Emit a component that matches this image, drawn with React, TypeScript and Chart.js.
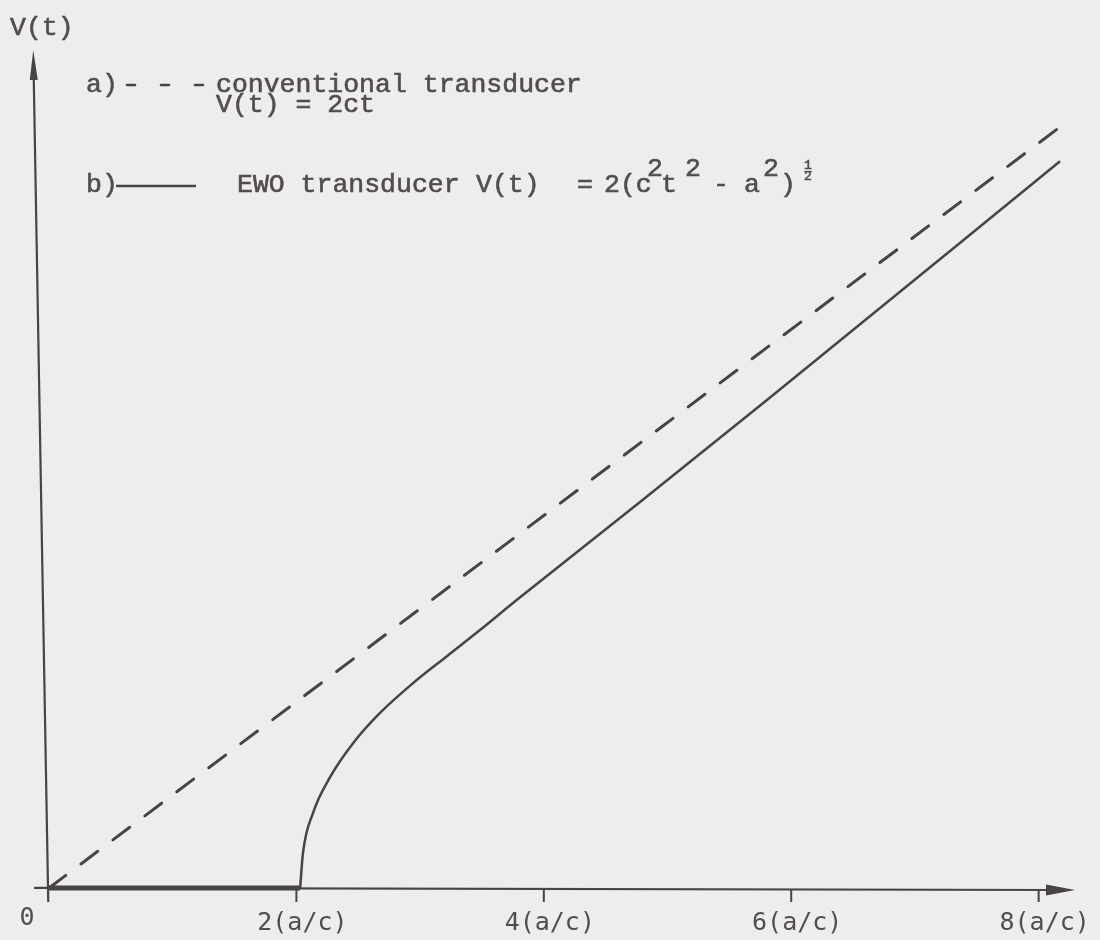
import React, { useEffect, useRef } from "react";
import { Chart, registerables } from "chart.js";

Chart.register(...registerables);

// ---- data (t in units of a/c, V in units of a) ----
const tickValues = [2, 4, 6, 8];
const tickLabels = ["2(a/c)", "4(a/c)", "6(a/c)", "8(a/c)"];
const originLabel = "0";
const yAxisTitle = "V(t)";

const conventionalT = [0, 8.16];
const conventionalV = [0, 16.32];

const ewoBaseT = [0, 2.03];
const ewoBaseV = [0, 0];

const ewoT = [2.03, 2.053, 2.134, 2.272, 2.458, 2.676, 2.943, 3.217, 3.484, 3.783, 4.778, 5.804, 8.173];
const ewoV = [0, 0.75, 1.61, 2.38, 3.11, 3.76, 4.4, 4.98, 5.54, 6.19, 8.29, 10.48, 15.61];

const legendALabel = "a)";
const legendAText = "conventional transducer";
const legendAFormula = "V(t) = 2ct";
const legendBLabel = "b)";
const legendBText = "EWO transducer";

const X_MIN = 0;
const X_MAX = 8.294;
const Y_MIN = 0;
const Y_MAX = 18;

const toPoints = (xs: number[], ys: number[]) => xs.map((x, i) => ({ x, y: ys[i] }));

export default function App() {
  const ref = useRef<HTMLCanvasElement>(null);

  useEffect(() => {
    document.body.style.margin = "0";
    const canvas = ref.current;
    if (!canvas) return;

    const ink = "#4a4343";
    const paper = "#ededeb";
    const textInk = "#534c4c";
    const serifMono = "26.5px 'Liberation Mono', 'Courier New', monospace";
    const sansMono = "25px 'DejaVu Sans Mono', monospace";
    const smallMono = "13px 'Liberation Mono', 'Courier New', monospace";

    const typed = (c: CanvasRenderingContext2D, s: string, x: number, y: number, font = serifMono) => {
      c.font = font;
      c.fillStyle = textInk;
      c.strokeStyle = textInk;
      c.lineWidth = 0.6;
      c.textAlign = "left";
      c.textBaseline = "alphabetic";
      c.fillText(s, x, y);
      c.strokeText(s, x, y);
    };

    const decor = {
      id: "decor",
      beforeDraw(chart: any) {
        const c = chart.ctx as CanvasRenderingContext2D;
        c.save();
        c.fillStyle = paper;
        c.fillRect(0, 0, chart.width, chart.height);
        c.restore();
      },
      beforeDatasetsDraw(chart: any) {
        const c = chart.ctx as CanvasRenderingContext2D;
        const xs = chart.scales.x;
        const ys = chart.scales.y;
        const area = chart.chartArea;
        const ox = xs.getPixelForValue(0);
        const oy = ys.getPixelForValue(0);
        const lean = 0.0176;
        const yAxisX = (y: number) => ox - 1 - (oy - y) * lean;
        const xAxisY = (x: number) => oy + (x - ox) * 0.002;

        c.save();
        c.strokeStyle = ink;
        c.fillStyle = ink;
        c.lineCap = "butt";

        // y axis
        c.lineWidth = 2.2;
        c.beginPath();
        c.moveTo(yAxisX(oy + 14), oy + 14);
        c.lineTo(yAxisX(area.top + 20), area.top + 20);
        c.stroke();
        // y arrow head
        const tipY = area.top;
        const baseY = area.top + 30;
        c.beginPath();
        c.moveTo(yAxisX(tipY), tipY);
        c.lineTo(yAxisX(baseY) + 4, baseY);
        c.lineTo(yAxisX(baseY) - 4, baseY);
        c.closePath();
        c.fill();

        // x axis
        c.lineWidth = 2.2;
        c.beginPath();
        c.moveTo(ox - 15, xAxisY(ox - 15));
        c.lineTo(area.right - 20, xAxisY(area.right - 20));
        c.stroke();
        // x arrow head
        const tipX = area.right;
        const baseX = area.right - 29;
        c.beginPath();
        c.moveTo(tipX, xAxisY(tipX));
        c.lineTo(baseX, xAxisY(baseX) - 5.5);
        c.lineTo(baseX, xAxisY(baseX) + 5.5);
        c.closePath();
        c.fill();

        // ticks
        c.lineWidth = 2;
        tickValues.forEach((v) => {
          const px = xs.getPixelForValue(v);
          c.beginPath();
          c.moveTo(px, xAxisY(px));
          c.lineTo(px, oy + 14);
          c.stroke();
        });
        c.restore();
      },
      afterDatasetsDraw(chart: any) {
        const c = chart.ctx as CanvasRenderingContext2D;
        const xs = chart.scales.x;
        const ys = chart.scales.y;
        const ox = xs.getPixelForValue(0);
        const oy = ys.getPixelForValue(0);
        c.save();

        // tick labels
        c.font = sansMono;
        c.fillStyle = textInk;
        c.textAlign = "center";
        c.textBaseline = "alphabetic";
        tickValues.forEach((v, i) => {
          const px = xs.getPixelForValue(v) + 6;
          c.fillText(tickLabels[i], px, oy + 42);
        });
        c.fillText(originLabel, ox - 22, oy + 37);

        // y axis title
        typed(c, yAxisTitle, 10, 35);

        // legend a
        typed(c, legendALabel, 86, 92);
        c.strokeStyle = ink;
        c.lineWidth = 2.6;
        c.lineCap = "round";
        [127, 161, 195].forEach((x0) => {
          c.beginPath();
          c.moveTo(x0, 85);
          c.lineTo(x0 + 8, 85);
          c.stroke();
        });
        typed(c, legendAText, 216, 92);
        typed(c, legendAFormula, 216, 112);

        // legend b
        typed(c, legendBLabel, 86, 192);
        c.strokeStyle = ink;
        c.lineWidth = 2.5;
        c.lineCap = "butt";
        c.beginPath();
        c.moveTo(116, 186);
        c.lineTo(196, 186);
        c.stroke();
        typed(c, legendBText, 237, 192);
        typed(c, "V(t)", 476, 192);
        typed(c, "=", 577, 192);
        typed(c, "2(c", 604, 192);
        typed(c, "2", 647, 176);
        typed(c, "t", 661, 192);
        typed(c, "2", 685, 176);
        typed(c, "-", 713, 192);
        typed(c, "a", 744, 192);
        typed(c, "2", 763, 176);
        typed(c, ")", 780, 192);
        typed(c, "1", 804, 169, smallMono);
        typed(c, "2", 804, 180, smallMono);
        c.strokeStyle = textInk;
        c.lineWidth = 1;
        c.beginPath();
        c.moveTo(804, 171.5);
        c.lineTo(812, 171.5);
        c.stroke();

        c.restore();
      },
    };

    const chart = new Chart(canvas, {
      type: "line",
      data: {
        datasets: [
          {
            label: "conventional transducer",
            data: toPoints(conventionalT, conventionalV),
            borderColor: ink,
            borderWidth: 3,
            borderDash: [21, 19],
            borderCapStyle: "round",
            pointRadius: 0,
            tension: 0,
            clip: false,
          },
          {
            label: "EWO transducer (zero)",
            data: toPoints(ewoBaseT, ewoBaseV),
            borderColor: ink,
            borderWidth: 5,
            pointRadius: 0,
            tension: 0,
            clip: false,
          },
          {
            label: "EWO transducer",
            data: toPoints(ewoT, ewoV),
            borderColor: ink,
            borderWidth: 2.5,
            pointRadius: 0,
            cubicInterpolationMode: "monotone",
            clip: false,
          },
        ],
      },
      options: {
        responsive: false,
        animation: false,
        events: [],
        layout: { padding: { left: 49, right: 25, top: 50, bottom: 52 } },
        plugins: { legend: { display: false }, tooltip: { enabled: false } },
        scales: {
          x: { type: "linear", min: X_MIN, max: X_MAX, display: false },
          y: { type: "linear", min: Y_MIN, max: Y_MAX, display: false },
        },
      },
      plugins: [decor],
    } as any);

    return () => chart.destroy();
  }, []);

  return (
    <div style={{ width: 1100, height: 940, background: "#ededeb" }}>
      <canvas ref={ref} width={1100} height={940} style={{ display: "block" }} />
    </div>
  );
}
